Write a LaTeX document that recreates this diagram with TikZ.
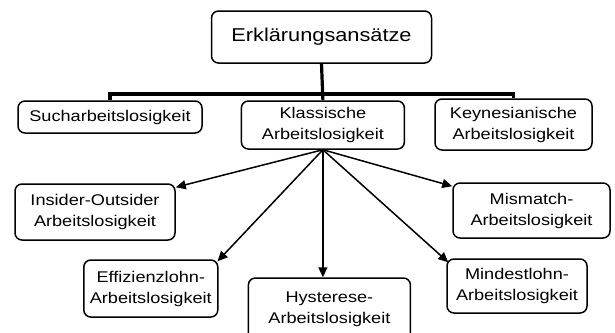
\documentclass[tikz,border=0pt]{standalone}
\usepackage{fontspec}
\setmainfont[FakeStretch=1.17]{Liberation Sans}
\usetikzlibrary{arrows.meta,calc}
\begin{document}
\begin{tikzpicture}[x=1pt,y=-1pt,
  box/.style={draw=black,line width=1.5pt,rounded corners=7pt,fill=white,
    align=center,inner sep=0pt,font=\fontsize{15.5}{21}\selectfont},
  tree/.style={line width=3.2pt},
  arr/.style={line width=1.5pt,-{Triangle[length=10pt,width=9pt]}}]
\useasboundingbox[fill=white] (0,0) rectangle (615,332);
\node[box,minimum width=220pt,minimum height=52pt,font=\fontsize{18.6}{22}\selectfont] (top) at (321.5,37) {Erklärungsansätze};
\node[box,minimum width=184pt,minimum height=32pt] (such) at (110,117) {Sucharbeitslosigkeit};
\node[box,minimum width=163pt,minimum height=48pt] (klass) at (322.9,125) {Klassische\\Arbeitslosigkeit};
\node[box,minimum width=157pt,minimum height=51pt] (keyn) at (513.5,124.5) {Keynesianische\\Arbeitslosigkeit};
\node[box,minimum width=160pt,minimum height=56pt] (ins) at (95,212) {Insider-Outsider\\Arbeitslosigkeit};
\node[box,minimum width=134pt,minimum height=57pt] (eff) at (150.8,288.5) {Effizienzlohn-\\Arbeitslosigkeit};
\node[box,minimum width=162pt,minimum height=62pt] (hys) at (329.4,309) {Hysterese-\\Arbeitslosigkeit};
\node[box,minimum width=157pt,minimum height=55pt] (mis) at (531.5,210.5) {Mismatch-\\Arbeitslosigkeit};
\node[box,minimum width=140pt,minimum height=54pt] (min) at (517,286) {Mindestlohn-\\Arbeitslosigkeit};
\coordinate (bar) at (322.9,94);
\draw[tree] (top.south) -- (klass.north);
\draw[tree] (such.north) |- (bar) -| (keyn.north);
\draw[arr] (klass.south) -- ($(ins.north east)+(0,4)$);
\draw[arr] (klass.south) -- ($(eff.north east)+(-1,2)$);
\draw[arr] (klass.south) -- (klass.south |- hys.north);
\draw[arr] (klass.south) -- ($(min.north west)+(2,4)$);
\draw[arr] (klass.south) -- ($(mis.north west)+(0,4)$);
\end{tikzpicture}
\end{document}
